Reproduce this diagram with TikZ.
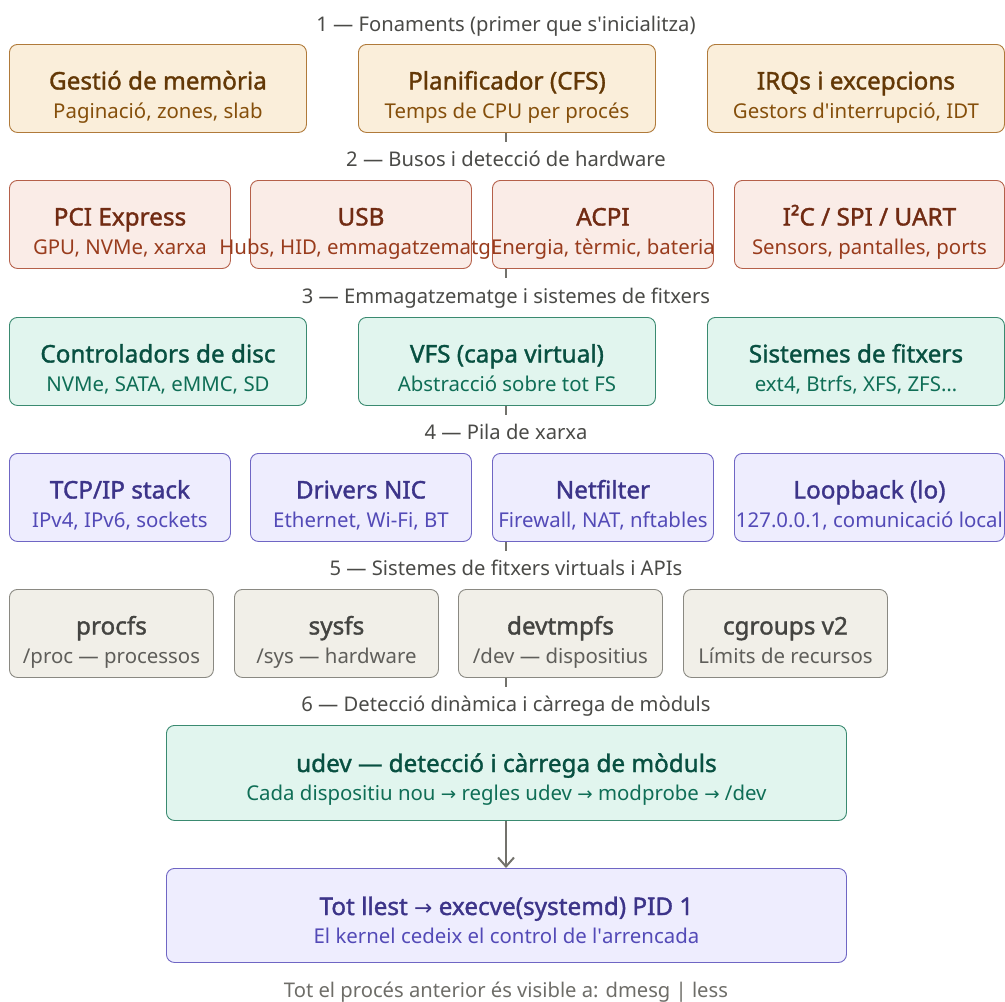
\documentclass[tikz,border=0pt]{standalone}
\usepackage{fontspec}
\setmainfont{Noto Sans}
\newfontfamily\titlefont{Noto Sans}[FakeBold=1.4]
\newfontfamily\arrowfont{DejaVu Sans}[Scale=0.9]
\usetikzlibrary{arrows.meta,calc}

% tone palettes: D = border, F = fill, T = title text, S = subtitle text
\definecolor{amberD}{HTML}{B07A3A}\definecolor{amberF}{HTML}{FAEEDA}
\definecolor{amberT}{HTML}{633806}\definecolor{amberS}{HTML}{854F0B}
\definecolor{coralD}{HTML}{B5604A}\definecolor{coralF}{HTML}{FAECE7}
\definecolor{coralT}{HTML}{712B13}\definecolor{coralS}{HTML}{993C1D}
\definecolor{tealD}{HTML}{3A8A70}\definecolor{tealF}{HTML}{E1F5EE}
\definecolor{tealT}{HTML}{085041}\definecolor{tealS}{HTML}{0F6E56}
\definecolor{purpD}{HTML}{6F66C4}\definecolor{purpF}{HTML}{EEEDFE}
\definecolor{purpT}{HTML}{3C3489}\definecolor{purpS}{HTML}{534AB7}
\definecolor{grayD}{HTML}{8A8982}\definecolor{grayF}{HTML}{F1EFE8}
\definecolor{grayT}{HTML}{444441}\definecolor{grayS}{HTML}{5F5E5A}
\definecolor{labelgray}{HTML}{4A4A47}
\definecolor{footgray}{HTML}{6E6D68}
\definecolor{linkgray}{HTML}{73726C}

\newcommand\ra{{\arrowfont →}}
\newcommand\ap{\textquotesingle}

\tikzset{
  card/.style={draw, rounded corners=8pt, line width=0.9pt, inner sep=0pt,
               anchor=north west},
  ttl/.style={anchor=base, inner sep=0pt, font=\titlefont\fontsize{24.3}{29}\selectfont},
  sub/.style={anchor=base, inner sep=0pt, font=\fontsize{20.4}{24}\selectfont},
  lbl/.style={anchor=base, inner sep=0pt, text=labelgray, font=\fontsize{20.2}{24}\selectfont},
  link/.style={draw=linkgray, line width=1.5pt},
  flow/.style={draw=linkgray, line width=2pt, -{Straight Barb[length=9pt,width=16pt,line width=2pt]}},
}

% \card{name}{left}{top}{width}{tone}{title}{subtitle}
\newcommand\card[7]{%
  \node[card, draw=#5D, fill=#5F, minimum width=#4, minimum height=88] (#1) at (#2,#3) {};
  \node[ttl, text=#5T] (#1-t) at ($(#1.north)+(0,45.5)$) {#6};
  \node[sub, text=#5S] (#1-s) at ($(#1.north)+(0,74.5)$) {#7};
}

\begin{document}
\begin{tikzpicture}[x=1pt,y=-1pt]
\useasboundingbox (0,0) rectangle (1005,1002);

% layer 1
\node[lbl] (l1) at (506,31) {1 — Fonaments (primer que s\ap{}inicialitza)};
\card{mem}{9}{44}{297}{amber}{Gestió de memòria}{Paginació, zones, slab}
\card{sched}{358}{44}{297}{amber}{Planificador (CFS)}{Temps de CPU per procés}
\card{irq}{707}{44}{297}{amber}{IRQs i excepcions}{Gestors d\ap{}interrupció, IDT}
\coordinate (c1) at (506,142);
\draw[link] (sched.south -| c1) -- (c1);

% layer 2
\node[lbl] (l2) at (506,166) {2 — Busos i detecció de hardware};
\card{pci}{9}{180}{221}{coral}{PCI Express}{GPU, NVMe, xarxa}
\card{usb}{250}{180}{221}{coral}{USB}{Hubs, HID, emmagatzematge}
\card{acpi}{492}{180}{221}{coral}{ACPI}{Energia, tèrmic, bateria}
\card{i2c}{734}{180}{270}{coral}{I²C / SPI / UART}{Sensors, pantalles, ports}
\coordinate (c2) at (506,278);
\draw[link] (acpi.south -| c2) -- (c2);

% layer 3
\node[lbl] (l3) at (506,303) {3 — Emmagatzematge i sistemes de fitxers};
\card{disk}{9}{317}{297}{teal}{Controladors de disc}{NVMe, SATA, eMMC, SD}
\card{vfs}{358}{317}{297}{teal}{VFS (capa virtual)}{Abstracció sobre tot FS}
\card{fs}{707}{317}{297}{teal}{Sistemes de fitxers}{ext4, Btrfs, XFS, ZFS…}
\coordinate (c3) at (506,415);
\draw[link] (vfs.south -| c3) -- (c3);

% layer 4
\node[lbl] (l4) at (506,439) {4 — Pila de xarxa};
\card{tcp}{9}{453}{221}{purp}{TCP/IP stack}{IPv4, IPv6, sockets}
\card{nic}{250}{453}{221}{purp}{Drivers NIC}{Ethernet, Wi-Fi, BT}
\card{nf}{492}{453}{221}{purp}{Netfilter}{Firewall, NAT, nftables}
\card{lo}{734}{453}{270}{purp}{Loopback (lo)}{127.0.0.1, comunicació local}
\coordinate (c4) at (506,551);
\draw[link] (nf.south -| c4) -- (c4);

% layer 5
\node[lbl] (l5) at (506,575) {5 — Sistemes de fitxers virtuals i APIs};
\card{proc}{9}{589}{204}{gray}{procfs}{/proc — processos}
\card{sys}{234}{589}{204}{gray}{sysfs}{/sys — hardware}
\card{dev}{458}{589}{204}{gray}{devtmpfs}{/dev — dispositius}
\card{cg}{683}{589}{204}{gray}{cgroups v2}{Límits de recursos}
\coordinate (c5) at (506,687);
\draw[link] (dev.south -| c5) -- (c5);

% layer 6
\node[lbl] (l6) at (506,711) {6 — Detecció dinàmica i càrrega de mòduls};
\node[card, draw=tealD, fill=tealF, minimum width=680, minimum height=95] (udev) at (166,725) {};
\node[ttl, text=tealT] (udev-t) at ($(udev.north)+(0,47)$) {udev — detecció i càrrega de mòduls};
\node[sub, text=tealS] (udev-s) at ($(udev.north)+(0,75.5)$) {Cada dispositiu nou \ra{} regles udev \ra{} modprobe \ra{} /dev};

% hand-over to user space
\node[card, draw=purpD, fill=purpF, minimum width=680, minimum height=94] (init) at (166,868) {};
\node[ttl, text=purpT] (init-t) at ($(init.north)+(0,47)$) {Tot llest \ra{} execve(systemd) PID 1};
\node[sub, text=purpS] (init-s) at ($(init.north)+(0,75)$) {El kernel cedeix el control de l\ap{}arrencada};
\draw[flow] (udev.south -| c5) -- (init.north -| c5);

\node[lbl, text=footgray] (foot) at (506,997) {Tot el procés anterior és visible a: dmesg | less};
\end{tikzpicture}
\end{document}
